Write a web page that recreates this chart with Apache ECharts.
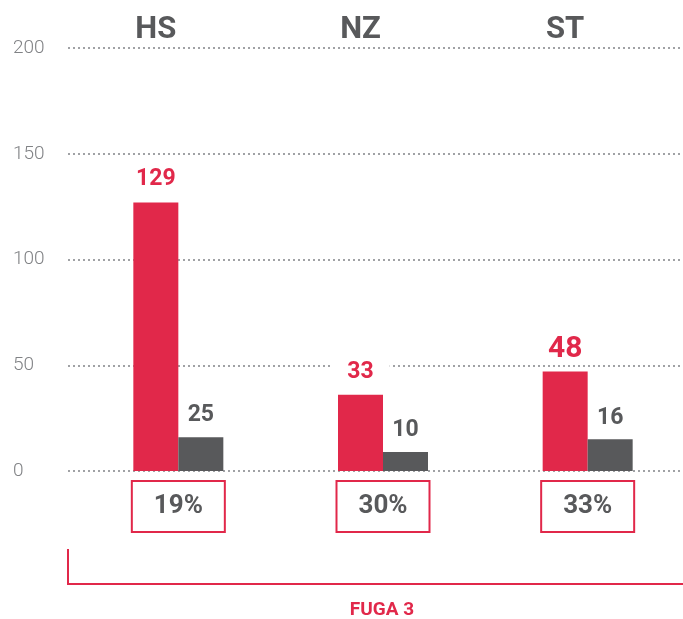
<!DOCTYPE html>
<html>
<head>
<meta charset="utf-8">
<script src="https://cdn.jsdelivr.net/npm/echarts@6/dist/echarts.min.js"></script>
<style>
html, body { margin: 0; padding: 0; background: #fff; }
#chart { width: 683px; height: 619px; }
</style>
</head>
<body>
<div id="chart"></div>
<script>
// data
var categories = ['HS', 'NZ', 'ST'];
var shares = ['19%', '30%', '33%'];
var redValues = [127, 36, 47];   // bar heights as drawn
var greyValues = [16, 9, 15];
var redLabels = ['129', '33', '48'];  // numbers printed above the bars
var greyLabels = ['25', '10', '16'];
var yTicks = [0, 50, 100, 150, 200];

var RED = '#e1284a';
var GREY = '#58595b';
var FONT = 'Roboto, "Noto Sans", sans-serif';

var myChart = echarts.init(document.getElementById('chart'));

var option = {
    animation: false,
    backgroundColor: '#fff',
    grid: [
        { left: 76, width: 614, top: 48, bottom: 148, outerBoundsMode: 'none' },
        { left: 68, right: 0, top: 48, bottom: 148, outerBoundsMode: 'none' }   // only for the dotted grid lines
    ],
    xAxis: [
        {
            type: 'category',
            gridIndex: 0,
            position: 'top',
            data: categories,
            axisLine: { show: false },
            axisTick: { show: false },
            axisLabel: {
                margin: 2,
                color: GREY,
                fontFamily: FONT,
                fontWeight: 'bold',
                fontSize: 31,
                lineHeight: 31,
                padding: [0, 45, 0, 0]   // centre over the red bar
            }
        },
        {
            type: 'category',
            gridIndex: 0,
            position: 'bottom',
            data: shares,
            axisLine: { show: false },
            axisTick: { show: false },
            axisLabel: {
                margin: 11,
                color: GREY,
                fontFamily: FONT,
                fontWeight: 'bold',
                fontSize: 26,
                width: 91,
                height: 49,
                lineHeight: 49,
                align: 'center',
                borderColor: RED,
                borderWidth: 2,
                backgroundColor: '#fff'
            }
        },
        {
            type: 'category',
            gridIndex: 1,
            data: categories,
            show: false
        }
    ],
    yAxis: [
        {
            type: 'value',
            gridIndex: 0,
            min: yTicks[0],
            max: yTicks[yTicks.length - 1],
            interval: yTicks[1] - yTicks[0],
            axisLabel: { show: false },
            axisLine: { show: false },
            axisTick: { show: false },
            splitLine: { show: false }
        },
        {
            type: 'value',
            gridIndex: 1,
            min: yTicks[0],
            max: yTicks[yTicks.length - 1],
            interval: yTicks[1] - yTicks[0],
            axisLine: { show: false },
            axisTick: { show: false },
            axisLabel: {
                align: 'left',
                margin: 55,
                color: '#808285',
                fontFamily: FONT,
                fontWeight: 300,
                fontSize: 19
            },
            splitLine: {
                lineStyle: { color: '#a0a2a5', width: 2, type: [2, 3] }
            }
        }
    ],
    series: [
        {
            name: 'red',
            type: 'bar',
            xAxisIndex: 0,
            yAxisIndex: 0,
            barWidth: 45,
            barGap: '0%',
            data: redValues,
            itemStyle: { color: RED },
            label: {
                show: true,
                position: 'top',
                distance: 7.5,
                backgroundColor: '#fff',
                padding: [0, 16],
                formatter: function (p) {
                    // the ST number is printed larger
                    return p.dataIndex === 2 ? '{big|' + redLabels[p.dataIndex] + '}' : '{n|' + redLabels[p.dataIndex] + '}';
                },
                rich: {
                    n: { color: RED, fontFamily: FONT, fontWeight: 'bold', fontSize: 23, lineHeight: 23, padding: [0, 0, 8, 0] },
                    big: { color: RED, fontFamily: FONT, fontWeight: 'bold', fontSize: 30, lineHeight: 30 }
                }
            }
        },
        {
            name: 'grey',
            type: 'bar',
            xAxisIndex: 0,
            yAxisIndex: 0,
            barWidth: 45,
            data: greyValues,
            itemStyle: { color: GREY },
            label: {
                show: true,
                position: 'top',
                distance: 10,
                color: GREY,
                fontFamily: FONT,
                fontWeight: 'bold',
                fontSize: 23,
                lineHeight: 23,
                formatter: function (p) {
                    return greyLabels[p.dataIndex];
                }
            }
        }
    ],
    graphic: [
        {
            type: 'polyline',
            shape: { points: [[68, 549], [68, 584], [683, 584]] },
            style: { stroke: RED, lineWidth: 2, fill: null }
        },
        {
            type: 'text',
            x: 382,
            y: 610,
            style: {
                text: 'FUGA 3',
                fill: RED,
                font: 'bold 19px Roboto, sans-serif',
                textAlign: 'center',
                textVerticalAlign: 'middle'
            }
        }
    ]
};

myChart.setOption(option);
</script>
</body>
</html>
